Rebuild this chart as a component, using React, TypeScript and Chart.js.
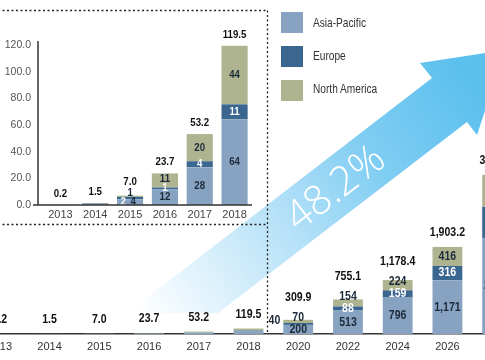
import React, { useEffect, useRef } from "react";
import { Chart, registerables } from "chart.js";

Chart.register(...registerables);

// ---------- data ----------
const SERIES = ["Asia-Pacific", "Europe", "North America"];
const COLORS = ["#88a3c1", "#3a668f", "#aeb490"];

const MAIN_YEARS = ["2013", "2014", "2015", "2016", "2017", "2018", "2020", "2022", "2024", "2026", "2028"];
const MAIN_AP = [0.1, 0.8, 4.2, 11.9, 28.4, 64.2, 199.9, 513.1, 795.6, 1171.2, 2100];
const MAIN_EU = [0.05, 0.3, 1.9, 1.2, 4.4, 11.3, 40.0, 88.0, 158.8, 316.0, 680];
const MAIN_NA = [0.05, 0.4, 0.9, 10.6, 20.4, 44.0, 70.0, 154.0, 224.0, 416.0, 700];

const INSET_YEARS = ["2013", "2014", "2015", "2016", "2017", "2018"];
const INSET_AP = [0.1, 0.8, 4.2, 11.9, 28.4, 64.2];
const INSET_EU = [0.05, 0.3, 1.9, 1.2, 4.4, 11.3];
const INSET_NA = [0.05, 0.4, 0.9, 10.6, 20.4, 44.0];
const INSET_TICKS = [0, 20, 40, 60, 80, 100, 120];

const CAGR_TEXT = "48.2%";

// ---------- styling ----------
const FONT = "'Liberation Sans Narrow', 'Liberation Sans', Arial, sans-serif";
const MAIN_OFFSET = 25; // canvas shifted left by this many px
const SQUEEZE = 0.88; // horizontal condensing of data labels

const fmtInt = (v: number) => Math.round(v).toLocaleString("en-US");
const fmtTotal = (v: number) =>
  v.toLocaleString("en-US", { minimumFractionDigits: 1, maximumFractionDigits: 1 });

function squeezedText(ctx: any, txt: string, x: number, y: number) {
  ctx.save();
  ctx.translate(x, y);
  ctx.scale(SQUEEZE, 1);
  ctx.fillText(txt, 0, 0);
  ctx.restore();
}

const stackLabels = {
  id: "stackLabels",
  afterDatasetsDraw(chart: any, _a: any, o: any) {
    const ctx = chart.ctx;
    const metas = chart.data.datasets.map((_: any, k: number) => chart.getDatasetMeta(k));
    const n = chart.data.labels.length;
    ctx.save();
    ctx.textAlign = "center";
    ctx.textBaseline = "middle";
    for (let i = 0; i < n; i++) {
      const segs = metas.map((m: any, k: number) => ({ el: m.data[i], v: chart.data.datasets[k].data[i] }));
      const x = segs[0].el.x;
      const w = segs[0].el.width;
      const top = Math.min(...segs.map((s: any) => s.el.y));
      const total = segs.reduce((a: number, s: any) => a + s.v, 0);
      let lastY = Infinity;
      if (i >= o.innerFrom) {
        const side = o.sideBySide.includes(i);
        segs.forEach((s: any, k: number) => {
          const t = s.el.y;
          const b = s.el.base;
          const h = b - t;
          ctx.font = o.innerFont;
          ctx.fillStyle = o.colors[k];
          ctx.textAlign = "center";
          const txt = fmtInt(s.v);
          if (k === 1 && side) return;
          if (k === 1 && h < o.thin) {
            ctx.textAlign = "right";
            ctx.fillStyle = o.outsideColor;
            squeezedText(ctx, txt, x - w / 2 - 3, t - 2);
            return;
          }
          const y = Math.min((t + b) / 2, lastY - o.gap);
          lastY = y;
          if (k === 0 && side) {
            squeezedText(ctx, txt, x + o.sideAP, y);
            ctx.fillStyle = o.colors[1];
            squeezedText(ctx, fmtInt(segs[1].v), x + o.sideEU, y);
            return;
          }
          squeezedText(ctx, txt, x, y);
        });
      }
      ctx.textAlign = "center";
      ctx.font = o.totalFont;
      ctx.fillStyle = o.totalColor;
      const ty = Math.min(top - o.totalGap, lastY - o.totalAfter);
      squeezedText(ctx, fmtTotal(total), x, ty);
    }
    ctx.restore();
  },
};

// arrow + dashed frame on the main canvas
const decor = {
  id: "decor",
  beforeDatasetsDraw(chart: any) {
    const ctx = chart.ctx;
    const X = (v: number) => v + MAIN_OFFSET;
    ctx.save();
    const g = ctx.createLinearGradient(X(140), 313, X(470), 85);
    g.addColorStop(0, "rgba(120,200,242,0.0)");
    g.addColorStop(0.35, "rgba(120,200,242,0.45)");
    g.addColorStop(0.7, "rgba(105,196,240,0.85)");
    g.addColorStop(1, "rgba(92,192,238,1)");
    ctx.fillStyle = g;
    ctx.beginPath();
    const pts = [
      [127, 313], [432, 78], [420, 63], [505, 50], [477, 135], [467, 122], [218, 313],
    ];
    pts.forEach((p, idx) => (idx === 0 ? ctx.moveTo(X(p[0]), p[1]) : ctx.lineTo(X(p[0]), p[1])));
    ctx.closePath();
    ctx.fill();
    // CAGR text
    ctx.translate(X(336), 189);
    ctx.rotate((-37.5 * Math.PI) / 180);
    ctx.fillStyle = "#ffffff";
    ctx.font = "300 41px 'Open Sans', 'Liberation Sans', sans-serif";
    ctx.textAlign = "center";
    ctx.textBaseline = "middle";
    ctx.fillText(CAGR_TEXT, 0, 0);
    ctx.restore();
  },
  afterDraw(chart: any) {
    const ctx = chart.ctx;
    const X = (v: number) => v + MAIN_OFFSET;
    ctx.save();
    ctx.strokeStyle = "#222";
    ctx.lineWidth = 1.3;
    ctx.setLineDash([2, 2.5]);
    ctx.beginPath();
    ctx.moveTo(X(-2), 10.5);
    ctx.lineTo(X(267.5), 10.5);
    ctx.moveTo(X(-2), 224.5);
    ctx.lineTo(X(267.5), 224.5);
    ctx.moveTo(X(267.5), 10.5);
    ctx.lineTo(X(267.5), 333);
    ctx.stroke();
    ctx.restore();
  },
};

// inset axis lines (y axis line sits a bit left of the first category)
const insetAxes = {
  id: "insetAxes",
  afterDraw(chart: any) {
    const { ctx, chartArea } = chart;
    ctx.save();
    ctx.strokeStyle = "#333";
    ctx.lineWidth = 1.5;
    ctx.beginPath();
    ctx.moveTo(chartArea.left - 5, 41);
    ctx.lineTo(chartArea.left - 5, chartArea.bottom);
    ctx.moveTo(chartArea.left - 10, chartArea.bottom);
    ctx.lineTo(chartArea.right, chartArea.bottom);
    ctx.stroke();
    ctx.restore();
  },
};

const mkDatasets = (ap: number[], eu: number[], na: number[], barPct: number) =>
  [ap, eu, na].map((d, k) => ({
    label: SERIES[k],
    data: d,
    backgroundColor: COLORS[k],
    borderWidth: 0,
    barPercentage: barPct,
    categoryPercentage: 1,
    stack: "s",
  }));

export default function App() {
  const mainRef = useRef<HTMLCanvasElement>(null);
  const insetRef = useRef<HTMLCanvasElement>(null);

  useEffect(() => {
    const main = new Chart(mainRef.current!, {
      type: "bar",
      data: { labels: MAIN_YEARS, datasets: mkDatasets(MAIN_AP, MAIN_EU, MAIN_NA, 0.6) as any },
      options: {
        animation: false,
        responsive: false,
        layout: { padding: 0 },
        scales: {
          x: {
            stacked: true,
            grid: { display: false, drawTicks: false },
            border: { display: true, color: "#333", width: 1.5 },
            ticks: { color: "#333", font: { family: FONT, size: 11 }, padding: 6, maxRotation: 0, autoSkip: false },
            afterFit: (s: any) => { s.height = 26; },
          },
          y: { stacked: true, display: false, min: 0, max: 7300 },
        },
        plugins: {
          legend: { display: false },
          tooltip: { enabled: false },
          stackLabels: {
            innerFrom: 6,
            sideBySide: [],
            thin: 3,
            gap: 12,
            totalGap: 14,
            totalAfter: 20,
            innerFont: `bold 12px ${FONT}`,
            totalFont: `bold 12px ${FONT}`,
            colors: ["#1c2a3a", "#ffffff", "#1c2a3a"],
            outsideColor: "#1c2a3a",
            totalColor: "#111",
          },
        } as any,
      },
      plugins: [decor, stackLabels],
    });

    const inset = new Chart(insetRef.current!, {
      type: "bar",
      data: { labels: INSET_YEARS, datasets: mkDatasets(INSET_AP, INSET_EU, INSET_NA, 0.75) as any },
      options: {
        animation: false,
        responsive: false,
        layout: { padding: { left: 0, right: 13, top: 45, bottom: 0 } },
        scales: {
          x: {
            stacked: true,
            grid: { display: false, drawTicks: false },
            border: { display: false },
            ticks: { color: "#444", font: { family: FONT, size: 11 }, padding: 3, maxRotation: 0, autoSkip: false },
            afterFit: (s: any) => { s.height = 20; },
          },
          y: {
            stacked: true,
            min: 0,
            max: 120,
            grid: { display: false, drawTicks: false },
            border: { display: false },
            afterBuildTicks: (s: any) => { s.ticks = INSET_TICKS.map((v) => ({ value: v })); },
            ticks: {
              color: "#555",
              font: { family: FONT, size: 10.5 },
              padding: 12,
              callback: (v: any) => Number(v).toFixed(1),
            },
            afterFit: (s: any) => { s.width = 43; },
          },
        },
        plugins: {
          legend: { display: false },
          tooltip: { enabled: false },
          stackLabels: {
            innerFrom: 2,
            sideBySide: [2],
            sideAP: 3,
            sideEU: -7,
            thin: 0,
            gap: 9,
            totalGap: 11,
            totalAfter: 11,
            innerFont: `bold 11px ${FONT}`,
            totalFont: `bold 11px ${FONT}`,
            colors: ["#1c2a3a", "#ffffff", "#1c2a3a"],
            outsideColor: "#1c2a3a",
            totalColor: "#111",
          },
        } as any,
      },
      plugins: [stackLabels, insetAxes],
    });

    return () => {
      main.destroy();
      inset.destroy();
    };
  }, []);

  return (
    <div style={{ position: "fixed", left: 0, top: 0, width: 485, height: 360, overflow: "hidden", background: "#fff" }}>
      <canvas
        ref={mainRef}
        width={547}
        height={360}
        style={{ position: "absolute", left: -MAIN_OFFSET, top: 0, width: 547, height: 360 }}
      />
      <canvas
        ref={insetRef}
        width={265}
        height={225}
        style={{ position: "absolute", left: 0, top: 0, width: 265, height: 225 }}
      />
      {SERIES.map((s, k) => (
        <div key={s}>
          <div
            style={{
              position: "absolute",
              left: 281,
              top: 12 + k * 34,
              width: 22,
              height: 21,
              background: COLORS[k],
            }}
          />
          <div
            style={{
              position: "absolute",
              left: 313,
              top: 15 + k * 33,
              fontFamily: FONT,
              fontSize: 13,
              lineHeight: "16px",
              color: "#333",
              whiteSpace: "nowrap",
              transform: "scaleX(0.78)",
              transformOrigin: "left center",
            }}
          >
            {s}
          </div>
        </div>
      ))}
    </div>
  );
}
